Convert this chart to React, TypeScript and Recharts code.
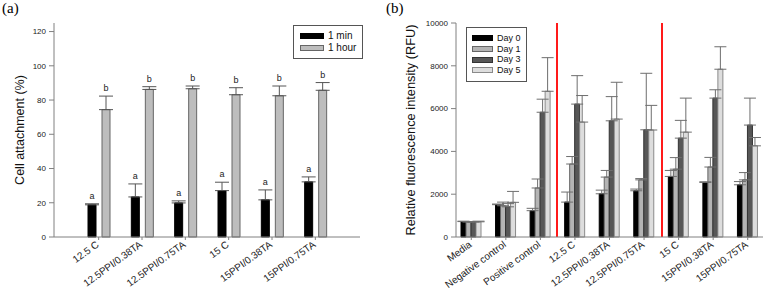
import React from 'react';
import { BarChart, Bar, XAxis, YAxis, ErrorBar, LabelList, Legend, ReferenceLine } from 'recharts';

// (a) cell attachment
const groups = ['12.5 C', '12.5PPI/0.38TA', '12.5PPI/0.75TA', '15 C', '15PPI/0.38TA', '15PPI/0.75TA'];
const oneMin = [18.8, 23.4, 19.9, 27.1, 21.7, 32.2];
const oneMinErr = [0.6, 7.6, 1.2, 4.9, 5.8, 2.9];
const oneMinLetters = ['a', 'a', 'a', 'a', 'a', 'a'];
const oneHour = [74.4, 86.2, 86.6, 83.1, 82.5, 85.7];
const oneHourErr = [7.9, 1.6, 1.6, 4.1, 5.7, 4.5];
const oneHourLetters = ['b', 'b', 'b', 'b', 'b', 'b'];
const attachTicks = [0, 20, 40, 60, 80, 100, 120];

// (b) fluorescence over days
const samples = ['Media', 'Negative control', 'Positive control', '12.5 C', '12.5PPI/0.38TA', '12.5PPI/0.75TA', '15 C', '15PPI/0.38TA', '15PPI/0.75TA'];
const day0 = [720, 1510, 1230, 1630, 2020, 2160, 2830, 2550, 2440];
const day0Err = [20, 30, 110, 470, 170, 80, 280, 30, 150];
const day1 = [700, 1460, 2290, 3410, 2800, 2670, 3170, 3270, 2670];
const day1Err = [20, 170, 420, 350, 310, 60, 540, 450, 340];
const day3 = [700, 1410, 5830, 6210, 5430, 5010, 4620, 6490, 5230];
const day3Err = [20, 150, 610, 1330, 1130, 2640, 830, 390, 1260];
const day5 = [710, 1620, 6810, 5370, 5510, 5000, 4900, 7840, 4260];
const day5Err = [30, 510, 1570, 1240, 1720, 1150, 1590, 1050, 390];
const rfuTicks = [0, 2000, 4000, 6000, 8000, 10000];
// divider positions, in sample-index units
const dividers = [2.65, 5.35];

const attachData = groups.map((g, i) => ({
  group: g,
  min: oneMin[i],
  minErr: [0, oneMinErr[i]],
  minCap: oneMinErr[i],
  minLetter: oneMinLetters[i],
  hour: oneHour[i],
  hourErr: [0, oneHourErr[i]],
  hourCap: oneHourErr[i],
  hourLetter: oneHourLetters[i],
}));

const rfuData = samples.map((s, i) => ({
  sample: s,
  d0: day0[i], d0Err: [0, day0Err[i]],
  d1: day1[i], d1Err: [0, day1Err[i]],
  d3: day3[i], d3Err: [0, day3Err[i]],
  d5: day5[i], d5Err: [0, day5Err[i]],
}));

const swatch: Record<string, { fill: string; stroke: string }> = {
  min: { fill: '#000000', stroke: '#000000' },
  hour: { fill: '#bdbdbd', stroke: '#666666' },
  d0: { fill: '#000000', stroke: '#000000' },
  d1: { fill: '#b4b4b4', stroke: '#666666' },
  d3: { fill: '#575757', stroke: '#333333' },
  d5: { fill: '#dddddd', stroke: '#8a8a8a' },
};

const FRAME = '#808080';
const FONT = '"Liberation Sans", Arial, sans-serif';

const SlantTick = ({ x, y, payload }: any) => (
  <text
    x={x + 1}
    y={y + 4}
    transform={`rotate(-36, ${x + 1}, ${y + 4})`}
    textAnchor="end"
    fontSize={10}
    fill="#222"
    fontFamily={FONT}
  >
    {payload.value}
  </text>
);

// boxed legend, only the listed series, in the listed order
const boxLegend = (order: string[], rowH: number, swW: number, padX: number, padY: number, fontSize: number) => (props: any) => {
  const items = (props.payload || [])
    .filter((p: any) => order.includes(p.dataKey))
    .sort((a: any, b: any) => order.indexOf(a.dataKey) - order.indexOf(b.dataKey));
  return (
    <div
      style={{
        border: '1px solid #555',
        background: '#fff',
        padding: `${padY}px ${padX}px`,
        fontFamily: FONT,
        fontSize,
        color: '#111',
        lineHeight: 1,
      }}
    >
      {items.map((p: any) => {
        const s = swatch[p.dataKey];
        return (
          <div key={p.dataKey} style={{ display: 'flex', alignItems: 'center', height: rowH }}>
            <span
              style={{
                display: 'inline-block',
                width: swW,
                height: 4,
                background: s.fill,
                border: `1px solid ${s.stroke}`,
              }}
            />
            <span style={{ marginLeft: 4, whiteSpace: 'nowrap' }}>{p.value}</span>
          </div>
        );
      })}
    </div>
  );
};

const AttachmentChart = () => (
  <BarChart
    width={380}
    height={305}
    data={attachData}
    margin={{ top: 23, right: 20, bottom: 8, left: 4 }}
    barSize={8}
    barGap={6}
  >
    <XAxis
      dataKey="group"
      height={60}
      interval={0}
      padding={{ left: 23, right: 23 }}
      stroke={FRAME}
      tickSize={3}
      tick={<SlantTick />}
    />
    <XAxis xAxisId="top" orientation="top" type="number" domain={[0, 1]} height={0} tick={false} tickLine={false} stroke={FRAME} />
    <YAxis
      domain={[0, 125]}
      ticks={attachTicks}
      width={50}
      stroke={FRAME}
      tickSize={5}
      tickMargin={3}
      tick={{ fontSize: 8, fill: '#222', fontFamily: FONT }}
      label={{
        value: 'Cell attachment (%)',
        angle: -90,
        position: 'insideLeft',
        offset: 16,
        style: { textAnchor: 'middle', fontSize: 12.5, fill: '#111', fontFamily: FONT },
      }}
    />
    <YAxis yAxisId="right" orientation="right" type="number" domain={[0, 1]} width={0} tick={false} tickLine={false} stroke={FRAME} />
    <Legend
      layout="horizontal"
      verticalAlign="middle"
      align="center"
      content={boxLegend(['min', 'hour'], 12, 22, 6, 4, 10)}
      wrapperStyle={{ left: 293, top: 25, width: 'auto' }}
    />
    <Bar dataKey="min" name="1 min" stackId="m" fill={swatch.min.fill} stroke={swatch.min.stroke} isAnimationActive={false}>
      <ErrorBar dataKey="minErr" width={7} stroke="#555" strokeWidth={1} />
    </Bar>
    <Bar dataKey="minCap" stackId="m" fill="transparent" legendType="none" isAnimationActive={false}>
      <LabelList dataKey="minLetter" position="top" offset={5} fontSize={9} fill="#222" fontFamily={FONT} />
    </Bar>
    <Bar dataKey="hour" name="1 hour" stackId="h" fill={swatch.hour.fill} stroke={swatch.hour.stroke} isAnimationActive={false}>
      <ErrorBar dataKey="hourErr" width={7} stroke="#555" strokeWidth={1} />
    </Bar>
    <Bar dataKey="hourCap" stackId="h" fill="transparent" legendType="none" isAnimationActive={false}>
      <LabelList dataKey="hourLetter" position="top" offset={5} fontSize={9} fill="#222" fontFamily={FONT} />
    </Bar>
  </BarChart>
);

const FluorescenceChart = () => (
  <BarChart
    width={384}
    height={305}
    data={rfuData}
    margin={{ top: 23, right: 1, bottom: 8, left: 26 }}
    barSize={5}
    barGap={0}
  >
    <XAxis
      dataKey="sample"
      height={60}
      interval={0}
      padding={{ left: -2, right: -2 }}
      stroke={FRAME}
      tickSize={3}
      tick={<SlantTick />}
    />
    <XAxis
      xAxisId="top"
      orientation="top"
      type="number"
      domain={[-0.5, samples.length - 0.5]}
      padding={{ left: -2, right: -2 }}
      allowDataOverflow
      height={0}
      tick={false}
      tickLine={false}
      stroke={FRAME}
    />
    <YAxis
      domain={[0, 10000]}
      ticks={rfuTicks}
      width={50}
      stroke={FRAME}
      tickSize={5}
      tickMargin={3}
      tick={{ fontSize: 8, fill: '#222', fontFamily: FONT }}
      label={{
        value: 'Relative fluorescence intensity (RFU)',
        angle: -90,
        position: 'insideLeft',
        offset: 4,
        style: { textAnchor: 'middle', fontSize: 12.8, fill: '#111', fontFamily: FONT },
      }}
    />
    <YAxis yAxisId="right" orientation="right" type="number" domain={[0, 1]} width={0} tick={false} tickLine={false} stroke={FRAME} />
    <Legend
      layout="horizontal"
      verticalAlign="middle"
      align="center"
      content={boxLegend(['d0', 'd1', 'd3', 'd5'], 10.7, 19, 5, 5, 9)}
      wrapperStyle={{ left: 86, top: 27, width: 'auto' }}
    />
    {dividers.map((d) => (
      <ReferenceLine key={d} xAxisId="top" x={d} stroke="#ff1a1a" strokeWidth={2} />
    ))}
    <Bar dataKey="d0" name="Day 0" fill={swatch.d0.fill} stroke={swatch.d0.stroke} isAnimationActive={false}>
      <ErrorBar dataKey="d0Err" width={6} stroke="#6e6e6e" strokeWidth={1} />
    </Bar>
    <Bar dataKey="d1" name="Day 1" fill={swatch.d1.fill} stroke={swatch.d1.stroke} isAnimationActive={false}>
      <ErrorBar dataKey="d1Err" width={6} stroke="#6e6e6e" strokeWidth={1} />
    </Bar>
    <Bar dataKey="d3" name="Day 3" fill={swatch.d3.fill} stroke={swatch.d3.stroke} isAnimationActive={false}>
      <ErrorBar dataKey="d3Err" width={6} stroke="#6e6e6e" strokeWidth={1} />
    </Bar>
    <Bar dataKey="d5" name="Day 5" fill={swatch.d5.fill} stroke={swatch.d5.stroke} isAnimationActive={false}>
      <ErrorBar dataKey="d5Err" width={6} stroke="#6e6e6e" strokeWidth={1} />
    </Bar>
  </BarChart>
);

export default function App() {
  return (
    <div style={{ position: 'absolute', left: 0, top: 0, width: 764, height: 305, background: '#fff' }}>
      <div style={{ position: 'absolute', left: 0, top: 0 }}>
        <AttachmentChart />
      </div>
      <div style={{ position: 'absolute', left: 380, top: 0 }}>
        <FluorescenceChart />
      </div>
      <div style={{ position: 'absolute', left: 2, top: 0, fontFamily: '"Liberation Serif", serif', fontSize: 15 }}>(a)</div>
      <div style={{ position: 'absolute', left: 386, top: 0, fontFamily: '"Liberation Serif", serif', fontSize: 15 }}>(b)</div>
    </div>
  );
}
